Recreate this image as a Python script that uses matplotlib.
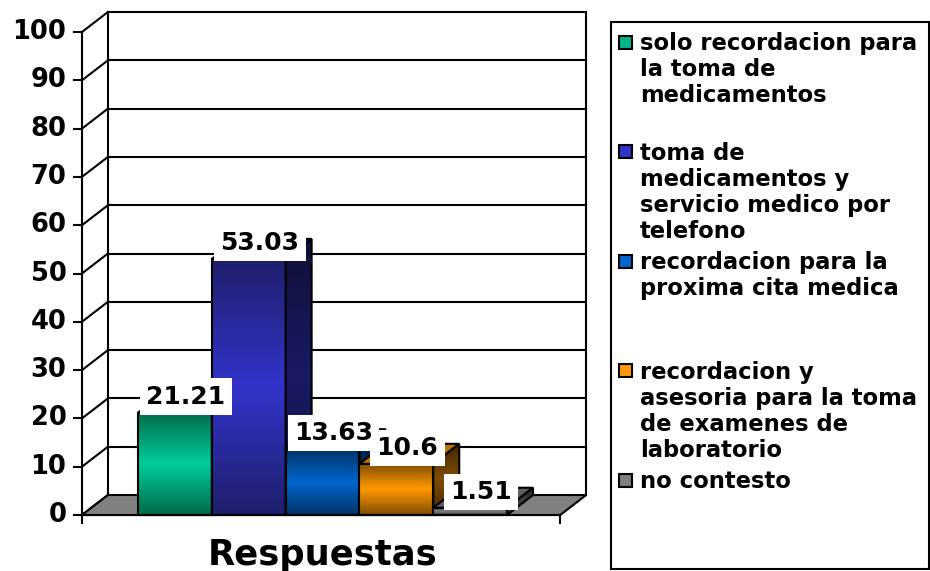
import numpy as np
import matplotlib
matplotlib.use('Agg')
import matplotlib.pyplot as plt
from matplotlib.patches import Polygon, Rectangle
from matplotlib.colors import LinearSegmentedColormap

# Data
categories = ['solo recordacion para\nla toma de\nmedicamentos',
              'toma de\nmedicamentos y\nservicio medico por\ntelefono',
              'recordacion para la\nproxima cita medica',
              'recordacion y\nasesoria para la toma\nde examenes de\nlaboratorio',
              'no contesto']
values = [21.21, 53.03, 13.63, 10.6, 1.51]
value_labels = ['21.21', '53.03', '13.63', '10.6', '1.51']
y_ticks = [0, 10, 20, 30, 40, 50, 60, 70, 80, 90, 100]
axis_title = 'Respuestas'

# colours: (dark end, bright middle) of the front gradient
front_colors = [('#006b4d', '#00cc99'), ('#1f1f6b', '#3333cc'), ('#003366', '#0066cc'),
                ('#7f4c00', '#ff9900'), ('#404040', '#808080')]
legend_colors = ['#00b386', '#3333cc', '#0066cc', '#ff9900', '#808080']

FONT = 'DejaVu Sans'

fig = plt.figure(figsize=(9.3, 5.71), dpi=100)
fig.patch.set_facecolor('white')

# main axes: one unit in x = one bar, y in percent
ax = fig.add_axes([0, 0, 1, 1])
ax.set_xlim(-2.37, 10.23)
ax.set_ylim(-11.59, 106.63)
ax.axis('off')

# 3d look
dx, dy = 0.352, 4.14
fl, fr = -1.26, 5.22   # floor front left / right
lw = 1.5

# --- floor ---
ax.add_patch(Polygon([(fl, 0), (fr, 0), (fr + dx, dy), (fl + dx, dy)], closed=True,
                     facecolor='#808080', edgecolor='black', lw=lw, zorder=1))

# --- walls and gridlines ---
for v in y_ticks[1:]:
    ax.plot([fl + dx, fr + dx], [v + dy, v + dy], color='black', lw=lw, zorder=0.5)
for v in y_ticks:
    ax.plot([fl, fl + dx], [v, v + dy], color='black', lw=lw, zorder=0.5)
ax.plot([fl + dx, fl + dx], [dy, 100 + dy], color='black', lw=lw, zorder=0.5)
ax.plot([fr + dx, fr + dx], [dy, 100 + dy], color='black', lw=lw, zorder=0.5)
ax.plot([fl, fl], [0, 100], color='black', lw=lw, zorder=0.5)

# y axis ticks + labels
tick_len = 0.11
for v in y_ticks:
    ax.plot([fl - tick_len, fl], [v, v], color='black', lw=lw, zorder=0.5)
    ax.text(fl - 0.21, v, str(v), ha='right', va='center', fontsize=18.5,
            fontweight='bold', family=FONT)

# x axis line + end ticks
ax.plot([fl, fr], [0, 0], color='black', lw=lw, zorder=6)
for xx in (fl, fr):
    ax.plot([xx, xx], [0, -1.7], color='black', lw=lw, zorder=6)

grad = np.concatenate([np.linspace(0, 1, 128), np.linspace(1, 0, 128)]).reshape(-1, 1)


def shade(c, f):
    r, g, b = matplotlib.colors.to_rgb(c)
    return (r * f, g * f, b * f)


# --- bars, drawn left to right ---
for i, (h, (c_end, c_mid)) in enumerate(zip(values, front_colors)):
    x0, x1 = i - 0.5, i + 0.5
    z = 2 + i * 0.5
    cmap = LinearSegmentedColormap.from_list('f%d' % i, [c_end, c_mid])
    ax.imshow(grad, extent=[x0, x1, 0, h], cmap=cmap, aspect='auto',
              interpolation='bilinear', zorder=z, vmin=0, vmax=1)
    ax.add_patch(Rectangle((x0, 0), 1, h, fill=False, edgecolor='black', lw=lw, zorder=z + 0.01))
    # top face
    ax.add_patch(Polygon([(x0, h), (x1, h), (x1 + dx, h + dy), (x0 + dx, h + dy)], closed=True,
                         facecolor=shade(c_mid, 0.75), edgecolor='black', lw=lw, zorder=z + 0.02))
    # side face
    side = Polygon([(x1, 0), (x1 + dx, dy), (x1 + dx, h + dy), (x1, h)], closed=True,
                   facecolor='none', edgecolor='black', lw=lw, zorder=z + 0.04)
    cmap_s = LinearSegmentedColormap.from_list('s%d' % i, [shade(c_end, 0.5), shade(c_mid, 0.5)])
    im = ax.imshow(grad, extent=[x1, x1 + dx, 0, h + dy], cmap=cmap_s, aspect='auto',
                   interpolation='bilinear', zorder=z + 0.03, vmin=0, vmax=1)
    ax.add_patch(side)
    im.set_clip_path(side)

# value labels
for i, (h, lab) in enumerate(zip(values, value_labels)):
    ax.text(i + 0.15, h + 3.3, lab, ha='center', va='center', fontsize=18,
            fontweight='bold', family=FONT, zorder=20 - i,
            bbox=dict(boxstyle='square,pad=0.25', facecolor='white', edgecolor='none'))

# category title
ax.text(2, -10.4, axis_title, ha='center', va='baseline', fontsize=25.5,
        fontweight='bold', family=FONT)

# --- legend (pixel layout) ---
lax = fig.add_axes([0, 0, 1, 1])
lax.set_xlim(0, 930)
lax.set_ylim(571, 0)
lax.axis('off')
lax.patch.set_alpha(0)
lax.add_patch(Rectangle((611, 22), 318, 547, facecolor='white', edgecolor='black', lw=1.5))
for k, (name, col) in enumerate(zip(categories, legend_colors)):
    cy = 42 + 109.5 * k
    lax.add_patch(Rectangle((618.5, cy - 6.5), 13, 13, facecolor=col, edgecolor='black', lw=1.5))
    lax.text(640, cy - 10, name, ha='left', va='top', fontsize=16.3,
             fontweight='bold', family=FONT, linespacing=1.17)

fig.savefig('out.png', dpi=100)
